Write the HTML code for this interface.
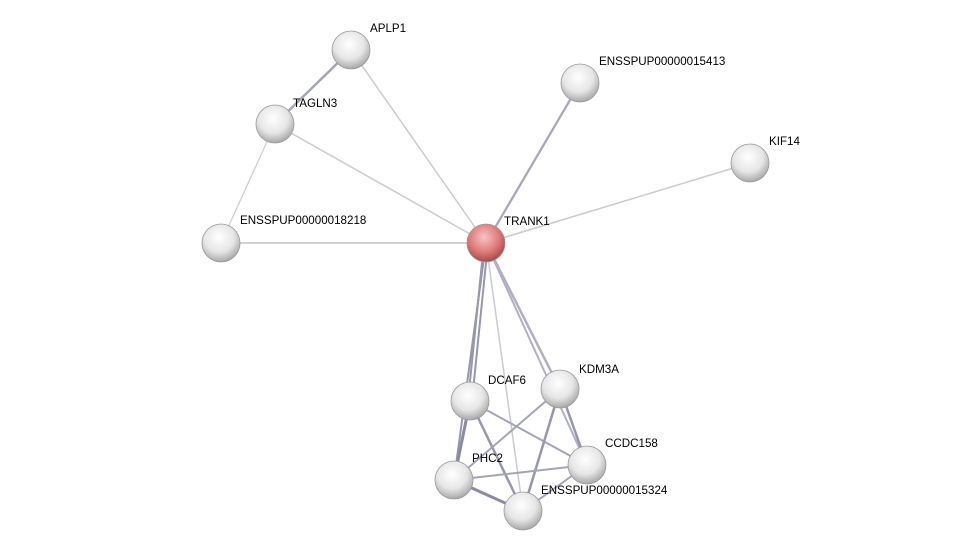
<!DOCTYPE html>
<html><head><meta charset="utf-8"><style>
html,body{margin:0;padding:0;background:#fff;}
svg{display:block;}
text{font-family:"Liberation Sans",sans-serif;font-size:11.6px;fill:#000;}
</style></head><body>
<svg width="976" height="557" viewBox="0 0 976 557" xmlns="http://www.w3.org/2000/svg">
<defs>
<radialGradient id="g" cx="45%" cy="35%" r="65%">
<stop offset="0" stop-color="#ffffff"/><stop offset="0.6" stop-color="#e6e6e6"/><stop offset="1" stop-color="#a8a8a8"/>
</radialGradient>
<radialGradient id="r" cx="45%" cy="35%" r="65%">
<stop offset="0" stop-color="#f6c4c4"/><stop offset="0.6" stop-color="#e07a7a"/><stop offset="1" stop-color="#a84848"/>
</radialGradient>
</defs>
<g stroke-linecap="round">
<line x1="351" y1="50" x2="275" y2="124" stroke="#a4a4b8" stroke-width="2.5"/>
<line x1="351" y1="50" x2="486" y2="243" stroke="#cacad0" stroke-width="1.5"/>
<line x1="275" y1="124" x2="486" y2="243" stroke="#cacad0" stroke-width="1.5"/>
<line x1="275" y1="124" x2="221" y2="243" stroke="#cfcfd2" stroke-width="1.3"/>
<line x1="221" y1="243" x2="486" y2="243" stroke="#c0c0ca" stroke-width="1.5"/>
<line x1="580" y1="83" x2="486" y2="243" stroke="#a8a8bc" stroke-width="2.3"/>
<line x1="750" y1="163" x2="486" y2="243" stroke="#cacad0" stroke-width="1.5"/>
<line x1="484" y1="243" x2="468" y2="401" stroke="#9696ae" stroke-width="2"/>
<line x1="488" y1="243" x2="472" y2="401" stroke="#9696ae" stroke-width="2"/>
<line x1="486" y1="243" x2="560" y2="389" stroke="#b0b0c2" stroke-width="2.5"/>
<line x1="486" y1="243" x2="587" y2="465" stroke="#b0b0c2" stroke-width="2"/>
<line x1="486" y1="243" x2="454" y2="480" stroke="#9696ae" stroke-width="2"/>
<line x1="486" y1="243" x2="523" y2="511" stroke="#cacad0" stroke-width="1.5"/>
<line x1="470" y1="401" x2="454" y2="480" stroke="#8a8aa6" stroke-width="3"/>
<line x1="470" y1="401" x2="587" y2="465" stroke="#a4a4b8" stroke-width="2"/>
<line x1="470" y1="401" x2="523" y2="511" stroke="#9696ae" stroke-width="2.5"/>
<line x1="560" y1="389" x2="454" y2="480" stroke="#a4a4b8" stroke-width="2"/>
<line x1="560" y1="389" x2="523" y2="511" stroke="#9696ae" stroke-width="2.5"/>
<line x1="560" y1="389" x2="587" y2="465" stroke="#9696ae" stroke-width="2.5"/>
<line x1="454" y1="480" x2="523" y2="511" stroke="#8a8aa6" stroke-width="3"/>
<line x1="454" y1="480" x2="587" y2="465" stroke="#a4a4b8" stroke-width="2"/>
<line x1="587" y1="465" x2="523" y2="511" stroke="#a4a4b8" stroke-width="2"/>
</g>
<g stroke="#9a9a9a" stroke-width="0.8">
<circle cx="351" cy="50" r="19" fill="url(#g)"/>
<circle cx="275" cy="124" r="19" fill="url(#g)"/>
<circle cx="580" cy="83" r="19" fill="url(#g)"/>
<circle cx="750" cy="163" r="19" fill="url(#g)"/>
<circle cx="221" cy="243" r="19" fill="url(#g)"/>
<circle cx="486" cy="243" r="19" fill="url(#r)"/>
<circle cx="470" cy="401" r="19" fill="url(#g)"/>
<circle cx="560" cy="389" r="19" fill="url(#g)"/>
<circle cx="587" cy="465" r="19" fill="url(#g)"/>
<circle cx="454" cy="480" r="19" fill="url(#g)"/>
<circle cx="523" cy="511" r="19" fill="url(#g)"/>
</g>
<text x="370" y="32">APLP1</text>
<text x="293" y="107">TAGLN3</text>
<text x="599" y="65">ENSSPUP00000015413</text>
<text x="769" y="145">KIF14</text>
<text x="240" y="224">ENSSPUP00000018218</text>
<text x="504" y="225">TRANK1</text>
<text x="488" y="384">DCAF6</text>
<text x="579" y="373">KDM3A</text>
<text x="605" y="447">CCDC158</text>
<text x="472" y="462">PHC2</text>
<text x="541" y="494">ENSSPUP00000015324</text>
</svg>
</body></html>
